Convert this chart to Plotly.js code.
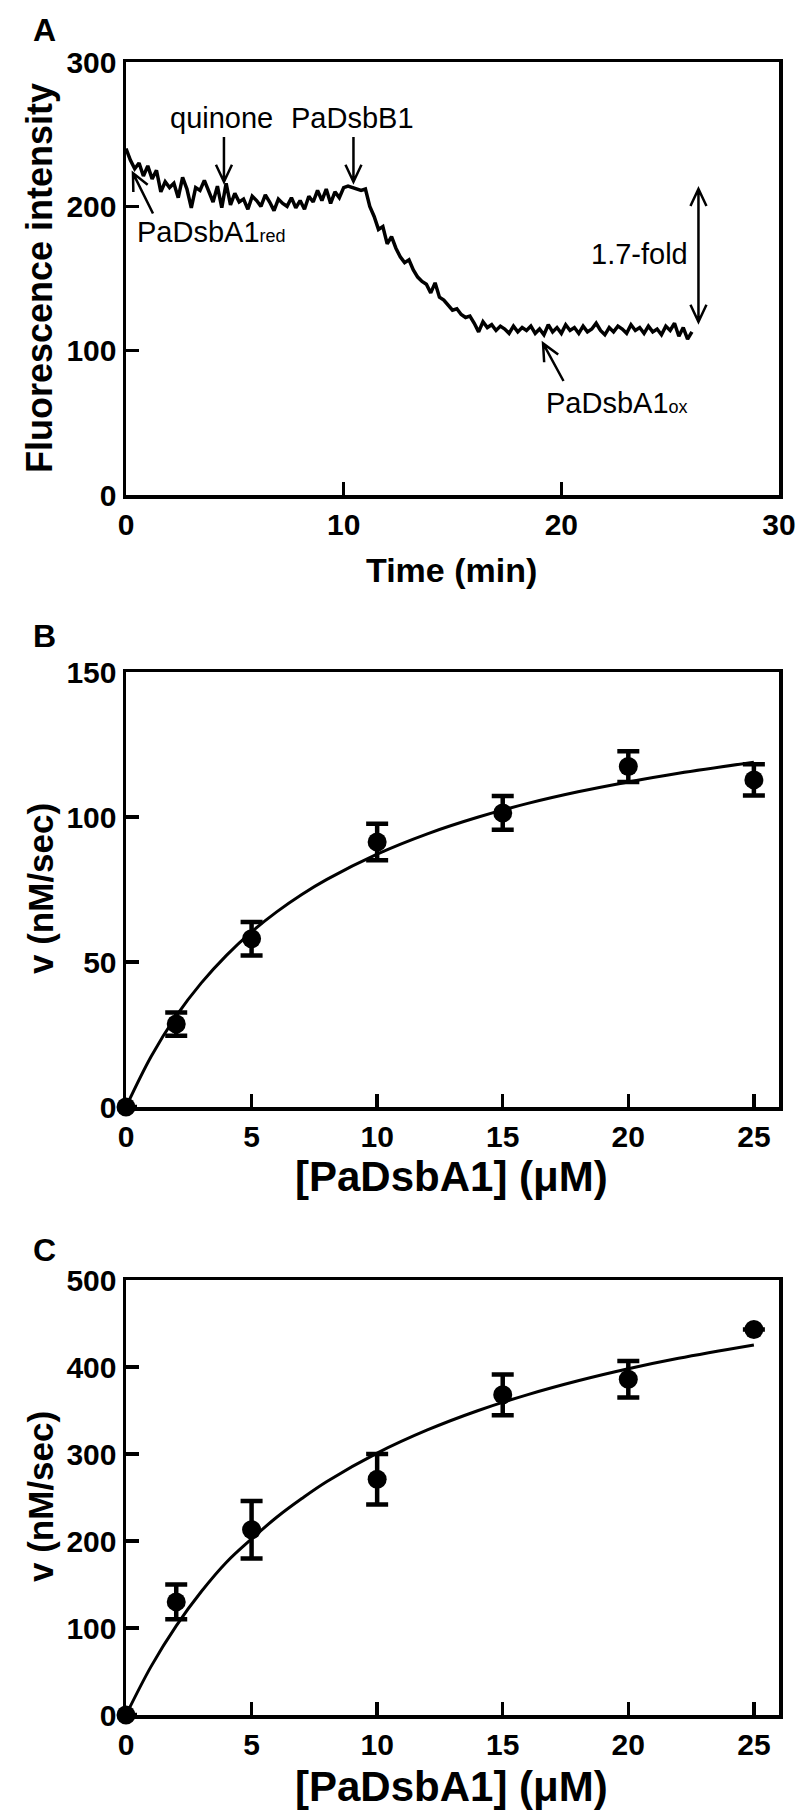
<!DOCTYPE html>
<html>
<head>
<meta charset="utf-8">
<script src="https://cdn.plot.ly/plotly-3.0.1.min.js"></script>
<style>body{margin:0;background:#fff;} #plotArea{width:800px;height:1813px;}</style>
</head>
<body>
<div id="plotArea"></div>
<script>
// Panel A - fluorescence trace, one reading every 0.2 min from t = 0
var fluor = [240,232,226,230,221,228,219,225,210,217,
             213,216,206,220,212,199,213,211,218,210,
             203,214,199,216,201,209,203,205,198,207,
             204,200,208,203,197,205,202,200,206,199,
             204,198,207,203,211,204,212,202,210,206,
             213,214,213,212,211,212,200,193,184,186,
             174,179,171,165,161,163,156,151,148,146,
             140,147,137,135,131,128,129,125,123,124,
             119,113,120,116,118,114,117,115,112,117,
             113,116,114,117,112,115,111,118,113,116,
             112,118,114,116,112,117,113,115,119,114,
             111,116,113,117,115,112,118,114,116,112,
             117,113,115,111,117,114,119,110,116,108,113];

// Panels B and C - rate vs [PaDsbA1]
var conc  = [0, 2, 5, 10, 15, 20, 25];
var rateB = [0, 28.6, 58, 91.4, 101.4, 117.4, 112.8];
var errB  = [null, 4, 5.8, 6.3, 5.8, 5.3, 5.4];
var rateC = [0, 130, 213, 271, 368, 386, 443];
var errC  = [null, 20, 33, 29, 23.5, 21, null];

// fitted curves
var fitX = [0, 1, 2, 3, 4, 5, 6, 7, 8, 10, 12, 14, 16, 18, 20, 22, 25];
var fitB = [0, 17.4, 31.4, 42.8, 52.3, 60.4, 67.3, 73.3, 78.5, 87.2, 94.2, 99.9, 104.7, 108.7, 112.1, 115.1, 118.9];
var fitC = [0, 55.9, 102.5, 141.9, 175.6, 202.4, 227.3, 248.8, 268.4, 301.0, 327.6, 349.7, 368.3, 384.2, 398.0, 410.0, 425.3];

var FONT = "Liberation Sans, Arial, sans-serif";
var W = 800, H = 1813;
var xDom = [126 / W, 779 / W];
function yDom(top, bottom) { return [1 - bottom / H, 1 - top / H]; }

function axis(extra) {
  var a = {
    showline: true, linewidth: 3.5, linecolor: "black", mirror: true,
    ticks: "inside", ticklen: 13, tickwidth: 3.5, tickcolor: "black",
    showgrid: false, zeroline: false,
    tickfont: {family: FONT, size: 30, color: "black", weight: "bold"}
  };
  for (var k in extra) a[k] = extra[k];
  return a;
}

var traceA = {y: fluor, x0: 0, dx: 0.2, mode: "lines", type: "scatter",
  line: {color: "black", width: 3.5}, xaxis: "x", yaxis: "y"};

function pointsTrace(y, err, xa, ya) {
  return {x: conc, y: y, mode: "markers", type: "scatter", cliponaxis: false,
    marker: {color: "black", size: 19},
    error_y: {type: "data", array: err, visible: true, color: "black", thickness: 4.5, width: 11},
    xaxis: xa, yaxis: ya};
}
function fitTrace(y, xa, ya) {
  return {x: fitX, y: y, mode: "lines", type: "scatter", line: {color: "black", width: 3, shape: "spline"},
    xaxis: xa, yaxis: ya};
}

// open V arrow heads, built in data units of panel A
var kx = 653 / 30, ky = 433 / 300;
function head(px, py, qx, qy) {
  var dx = (qx - px) * kx, dy = (qy - py) * ky;
  var L = Math.hypot(dx, dy), ux = dx / L, uy = dy / L;
  var hl = 17, hw = 8;
  var w1x = qx + (-ux * hl - uy * hw) / kx, w1y = qy + (-uy * hl + ux * hw) / ky;
  var w2x = qx + (-ux * hl + uy * hw) / kx, w2y = qy + (-uy * hl - ux * hw) / ky;
  return " M" + w1x + "," + w1y + " L" + qx + "," + qy + " L" + w2x + "," + w2y;
}
function arrow(tx, ty, hx, hy, both) {
  var p = "M" + tx + "," + ty + " L" + hx + "," + hy + head(tx, ty, hx, hy);
  if (both) p += head(hx, hy, tx, ty);
  return {type: "path", xref: "x", yref: "y", path: p, line: {color: "black", width: 2.5}};
}

var shapes = [
  arrow(4.5, 248, 4.5, 217),
  arrow(10.45, 248, 10.45, 217),
  arrow(1.24, 195, 0.32, 223),
  arrow(20.1, 79, 19.16, 105),
  arrow(26.3, 120, 26.3, 212, true)
];

function txt(x, y, s, extra) {
  var a = {x: x, y: y, xref: "x", yref: "y", text: s, showarrow: false,
    xanchor: "center", yanchor: "middle",
    font: {family: FONT, size: 29, color: "black"}};
  for (var k in extra) a[k] = extra[k];
  return a;
}
function paperTxt(xp, yp, s, size, extra) {
  var a = {x: xp / W, y: 1 - yp / H, xref: "paper", yref: "paper", text: s, showarrow: false,
    xanchor: "center", yanchor: "middle",
    font: {family: FONT, size: size, color: "black", weight: "bold"}};
  for (var k in extra) a[k] = extra[k];
  return a;
}

var annotations = [
  txt(4.4, 261, "quinone"),
  txt(10.4, 261, "PaDsbB1"),
  txt(0.4, 182, "PaDsbA1<span style='font-size:18px'>red</span>", {xanchor: "left"}),
  txt(19.2, 64, "PaDsbA1<span style='font-size:18px'>ox</span>", {xanchor: "left"}),
  txt(25.9, 167, "1.7-fold", {xanchor: "right"}),
  paperTxt(44, 30, "A", 32),
  paperTxt(44, 636, "B", 32),
  paperTxt(44, 1250, "C", 32),
  paperTxt(40, 278, "Fluorescence intensity", 36, {textangle: -90}),
  paperTxt(40, 889, "v (nM/sec)", 35, {textangle: -90}),
  paperTxt(40, 1497, "v (nM/sec)", 35, {textangle: -90}),
  paperTxt(452, 570, "Time (min)", 34),
  paperTxt(452, 1176, "[PaDsbA1] (\u03bcM)", 42),
  paperTxt(452, 1786, "[PaDsbA1] (\u03bcM)", 42)
];

var layout = {
  width: W, height: H, showlegend: false,
  margin: {l: 0, r: 0, t: 0, b: 0},
  paper_bgcolor: "white", plot_bgcolor: "white",
  xaxis: axis({domain: xDom, anchor: "y", range: [0, 30], dtick: 10}),
  yaxis: axis({domain: yDom(62, 495), anchor: "x", range: [0, 300], dtick: 100}),
  xaxis2: axis({domain: xDom, anchor: "y2", range: [0, 26], tickvals: [0, 5, 10, 15, 20, 25]}),
  yaxis2: axis({domain: yDom(672, 1107), anchor: "x2", range: [0, 150], dtick: 50}),
  xaxis3: axis({domain: xDom, anchor: "y3", range: [0, 26], tickvals: [0, 5, 10, 15, 20, 25]}),
  yaxis3: axis({domain: yDom(1280, 1715), anchor: "x3", range: [0, 500], dtick: 100}),
  shapes: shapes,
  annotations: annotations
};

var data = [
  traceA,
  fitTrace(fitB, "x2", "y2"), pointsTrace(rateB, errB, "x2", "y2"),
  fitTrace(fitC, "x3", "y3"), pointsTrace(rateC, errC, "x3", "y3")
];

Plotly.newPlot("plotArea", data, layout, {staticPlot: true});
</script>
</body>
</html>
